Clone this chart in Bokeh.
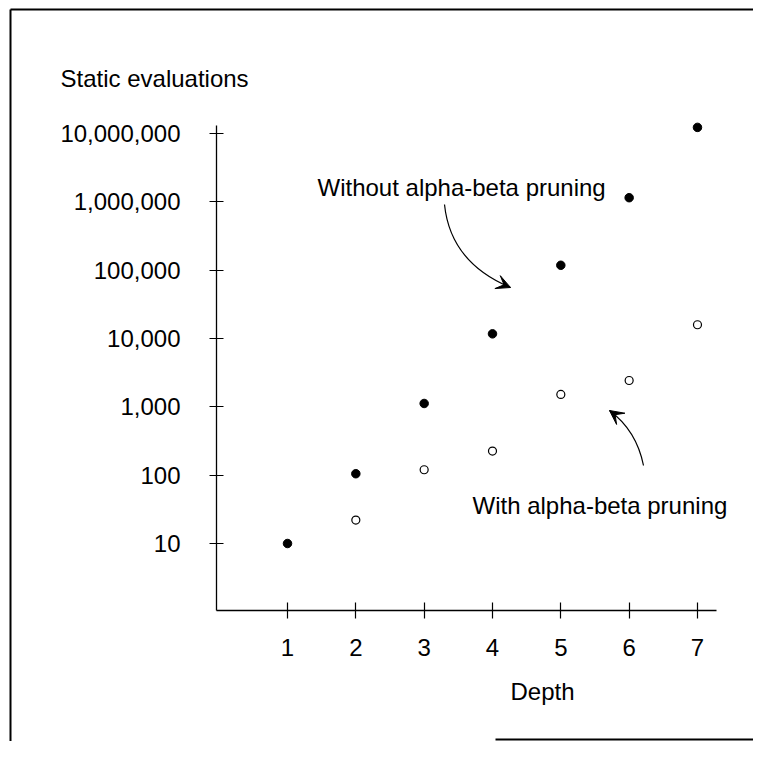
from bokeh.plotting import figure
from bokeh.models import (FixedTicker, NumeralTickFormatter, Label, Arrow, VeeHead,
                          Range1d)
from bokeh.embed import file_html
from bokeh.resources import INLINE

# ---- data ----
depth = [1, 2, 3, 4, 5, 6, 7]
without_pruning = [10, 105, 1120, 11700, 118000, 1150000, 12300000]
with_depth = [2, 3, 4, 5, 6, 7]
with_pruning = [22, 120, 225, 1520, 2430, 15900]
y_ticks = [10, 100, 1000, 10000, 100000, 1000000, 10000000]
y_tick_labels = ["10", "100", "1,000", "10,000", "100,000", "1,000,000", "10,000,000"]
x_tick_labels = ["1", "2", "3", "4", "5", "6", "7"]

FONT = "Liberation Sans"
FS = "24px"
W, H = 753, 741

# layout geometry (pixels): depth 1 at x=287, value 10 at y=543, 68.33 px per unit/decade
X1_PX, Y10_PX, STEP = 287.0, 543.0, 68.33


def px2x(px):
    return 1 + (px - X1_PX) / STEP


def px2y(py):
    return 10 ** (1 + (Y10_PX - py) / STEP)


p = figure(width=W, height=H, y_axis_type="log",
           x_range=Range1d(px2x(0), px2x(W)),
           y_range=Range1d(px2y(H), px2y(0)),
           output_backend="svg", toolbar_location=None, min_border=0)
p.outline_line_color = None
p.grid.visible = False
p.background_fill_color = "white"
p.border_fill_color = "white"

x_axis_bounds = (px2x(216), px2x(716))
y_axis_bounds = (px2y(610), px2y(125))

for ax in (p.xaxis[0], p.yaxis[0]):
    ax.axis_line_color = "black"
    ax.axis_line_width = 1.3
    ax.major_tick_line_color = "black"
    ax.major_tick_line_width = 1.2
    ax.minor_tick_line_color = None
    ax.major_label_text_font = FONT
    ax.major_label_text_font_size = FS
    ax.major_label_text_color = "black"

p.yaxis.fixed_location = x_axis_bounds[0]
p.yaxis.bounds = y_axis_bounds
p.yaxis.ticker = FixedTicker(ticks=y_ticks, minor_ticks=[])
p.yaxis.formatter = NumeralTickFormatter(format="0,0")
p.yaxis.major_label_overrides = dict(zip(y_ticks, y_tick_labels))
p.yaxis.major_tick_in = 7
p.yaxis.major_tick_out = 7
p.yaxis.major_label_standoff = 29

p.xaxis.fixed_location = y_axis_bounds[0]
p.xaxis.bounds = x_axis_bounds
p.xaxis.ticker = FixedTicker(ticks=depth, minor_ticks=[])
p.xaxis.major_label_overrides = dict(zip(depth, x_tick_labels))
p.xaxis.major_tick_in = 8
p.xaxis.major_tick_out = 8
p.xaxis.major_label_standoff = 20

# points
p.scatter(depth, without_pruning, marker="circle", size=8.5,
          fill_color="black", line_color="black")
p.scatter(with_depth, with_pruning, marker="circle", size=8,
          fill_color="white", line_color="black", line_width=1.2)

# annotation arrows (curved shafts + heads), given in pixel positions
arrows = [
    ((444, 204), (450, 262), (510, 287)),
    ((643, 465), (636, 430), (609, 410)),
]
for (sx, sy), (cx, cy), (ex, ey) in arrows:
    p.quadratic(x0=[px2x(sx)], y0=[px2y(sy)], x1=[px2x(ex)], y1=[px2y(ey)],
                cx=[px2x(cx)], cy=[px2y(cy)], line_color="black", line_width=1.2)
    p.add_layout(Arrow(end=VeeHead(size=14, fill_color="black", line_color="black"),
                       x_start=px2x(cx), y_start=px2y(cy),
                       x_end=px2x(ex), y_end=px2y(ey), line_alpha=0))

# texts (left edge, baseline) in pixels
texts = [
    ("Static evaluations", 60, 78),
    ("Without alpha-beta pruning", 317, 187),
    ("With alpha-beta pruning", 472, 505),
    ("Depth", 510, 691),
]
for t, x, y in texts:
    p.add_layout(Label(x=px2x(x), y=px2y(y), text=t, text_font=FONT,
                       text_font_size=FS, text_color="black", text_align="left",
                       text_baseline="alphabetic"))

# scanned page frame
frame_lines = [((10, 9), (10, H)), ((10, 9), (W, 9)), ((495, 739), (W, 739))]
for (x0, y0), (x1, y1) in frame_lines:
    p.segment(x0=[px2x(x0)], y0=[px2y(y0)], x1=[px2x(x1)], y1=[px2y(y1)],
              line_color="black", line_width=2)

open("out.html", "w").write(file_html(p, INLINE))
